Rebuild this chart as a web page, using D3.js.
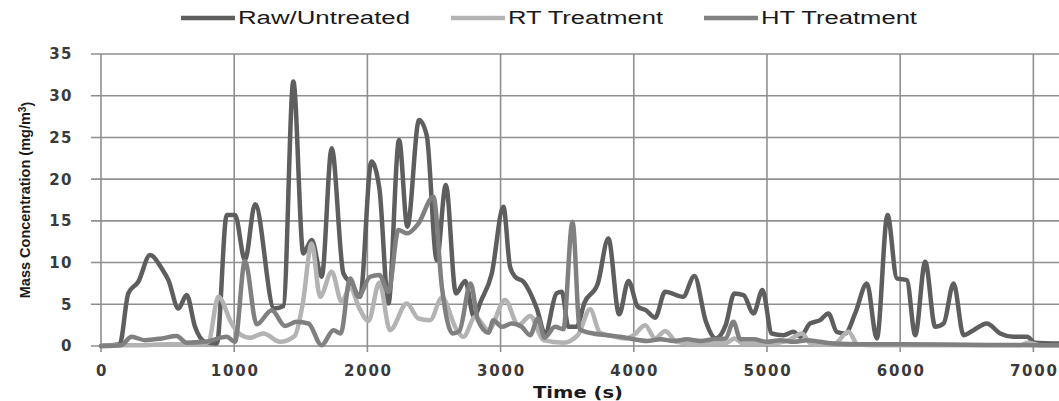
<!DOCTYPE html>
<html>
<head>
<meta charset="utf-8">
<script src="https://cdn.jsdelivr.net/npm/d3@7"></script>
<style>
  html, body { margin: 0; padding: 0; background: #fff; }
  svg { display: block; }
</style>
</head>
<body>
<svg id="chart"></svg>
<script>
// values (time in s, concentration in mg/m3)
const rawTime = [0,140,205,280,368,456,506,581,643,706,781,870,944,1006,1081,1157,1300,1370,1444,1519,1582,1657,1732,1820,1880,1945,2030,2090,2158,2238,2300,2388,2446,2521,2589,2665,2734,2800,2850,2934,3021,3071,3109,3172,3272,3334,3420,3460,3509,3571,3630,3730,3809,3890,3960,4030,4090,4160,4236,4370,4455,4540,4617,4690,4755,4824,4899,4966,5036,5124,5199,5249,5324,5399,5461,5524,5587,5662,5750,5825,5905,5975,6050,6113,6188,6263,6326,6401,6476,6551,6650,6751,6851,6953,7010,7200];
const rawValues = [0,0.2,6.3,7.7,10.9,9.3,7.9,4.5,6.1,2.3,0.5,0.3,15.7,15.7,10.3,17.0,4.5,4.8,31.7,11.1,12.7,8.3,23.7,8.7,7.5,5.9,22.1,18.9,5.1,24.7,14.3,27.1,25.2,10.3,19.3,6.3,7.8,3.5,5.3,8.7,16.7,9.5,8.3,7.7,4.5,1.5,6.3,6.5,2.3,2.3,5.2,7.5,12.9,3.8,7.8,4.7,4.3,3.4,6.5,5.9,8.4,3.0,0.9,2.5,6.3,6.1,3.9,6.7,1.5,1.3,1.7,1.1,2.7,3.1,3.9,1.7,1.5,3.9,7.5,0.9,15.7,8.1,7.9,1.3,10.1,2.3,2.7,7.5,1.3,1.9,2.7,1.5,1.1,1.1,0.4,0.3];

const rtTime = [0,150,300,500,700,806,881,981,1044,1120,1220,1344,1454,1514,1582,1645,1732,1807,1870,1940,2008,2090,2170,2296,2383,2471,2560,2671,2721,2810,2909,3034,3134,3222,3321,3472,3580,3672,3746,3834,3934,4000,4085,4160,4236,4320,4500,4700,4755,4820,5000,5150,5262,5330,5500,5612,5680,5800,6200,6600,6900,6960,7050,7200];
const rtValues = [0,0.1,0.1,0.2,0.2,0.5,5.9,2.7,1.4,1.0,1.5,0.5,1.2,5.0,12.3,5.9,8.9,5.3,7.0,4.5,3.0,7.6,1.9,5.1,3.3,3.1,5.8,1.9,1.1,3.5,1.9,5.5,2.5,3.6,0.7,0.4,1.3,4.4,1.6,1.2,0.9,1.3,2.5,0.9,1.8,0.5,0.2,0.4,0.9,0.3,0.3,0.6,1.5,0.3,0.2,1.7,0.2,0.1,0.1,0.1,0.1,0.4,0.1,0.1];

const htTime = [0,150,230,330,455,568,643,781,944,1006,1081,1169,1282,1382,1469,1557,1657,1745,1800,1870,1932,2020,2090,2158,2233,2300,2380,2496,2559,2640,2690,2775,2830,2909,2946,3009,3084,3159,3222,3280,3330,3409,3471,3540,3595,3696,3800,3900,4000,4100,4200,4300,4400,4500,4600,4690,4748,4800,4900,5000,5100,5200,5300,5400,5500,5700,6000,6500,7000,7200];
const htValues = [0,0.1,1.1,0.7,0.9,1.2,0.4,0.5,1.1,0.5,10.2,2.6,4.3,2.4,2.9,2.7,0.1,1.9,1.5,8.1,5.9,8.3,8.5,6.5,13.9,13.5,14.6,17.9,7.1,1.5,1.8,7.5,3.1,1.6,3.1,2.3,2.7,2.3,1.3,3.3,1.0,2.3,2.0,14.9,2.0,1.5,1.3,1.1,0.8,0.6,0.8,0.6,0.8,0.6,0.8,0.9,2.9,0.8,0.8,0.5,0.7,0.5,0.7,0.5,0.3,0.2,0.2,0.15,0.1,0.1];

const seriesNames = ["Raw/Untreated", "RT Treatment", "HT Treatment"];
const seriesColors = ["#5e5e5e", "#b3b3b3", "#808080"];
const xTicks = [0,1000,2000,3000,4000,5000,6000,7000];
const yTicks = [0,5,10,15,20,25,30,35];

const width = 1059, height = 401;
const svg = d3.select("#chart").attr("width", width).attr("height", height);

const x = d3.scaleLinear().domain([0, 7200]).range([101, 1060]);
const y = d3.scaleLinear().domain([0, 35]).range([346, 54]);

const gridColor = "#8f8f8f";

// horizontal gridlines (with tick stubs on the left)
svg.append("g")
    .selectAll("line")
    .data(yTicks)
    .enter()
    .append("line")
    .attr("x1", 91)
    .attr("x2", width)
    .attr("y1", d => y(d))
    .attr("y2", d => y(d))
    .attr("stroke", gridColor)
    .attr("stroke-width", 1.6);

// vertical gridlines (with tick stubs below)
svg.append("g")
    .selectAll("line")
    .data(xTicks)
    .enter()
    .append("line")
    .attr("x1", d => x(d))
    .attr("x2", d => x(d))
    .attr("y1", y(35))
    .attr("y2", 352)
    .attr("stroke", gridColor)
    .attr("stroke-width", 1.6);

// tick labels
svg.append("g")
    .selectAll("text")
    .data(yTicks)
    .enter()
    .append("text")
    .attr("x", 73)
    .attr("y", d => y(d))
    .attr("dy", "0.36em")
    .attr("text-anchor", "end")
    .style("font-family", "DejaVu Sans")
    .style("font-weight", "bold")
    .style("font-size", "15px")
    .style("letter-spacing", "1.5px")
    .attr("fill", "#3a3a3a")
    .text(d => d);

svg.append("g")
    .selectAll("text")
    .data(xTicks)
    .enter()
    .append("text")
    .attr("x", d => x(d) + 1)
    .attr("y", 371)
    .attr("dy", "0.36em")
    .attr("text-anchor", "middle")
    .style("font-family", "DejaVu Sans")
    .style("font-weight", "bold")
    .style("font-size", "15px")
    .style("letter-spacing", "1.8px")
    .attr("fill", "#3a3a3a")
    .text(d => d);

// axis titles
svg.append("text")
    .attr("x", 578)
    .attr("y", 392)
    .attr("dy", "0.36em")
    .attr("text-anchor", "middle")
    .style("font-family", "DejaVu Sans")
    .style("font-weight", "bold")
    .style("font-size", "16px")
    .attr("textLength", 90)
    .attr("lengthAdjust", "spacingAndGlyphs")
    .attr("fill", "#1a1a1a")
    .text("Time (s)");

const yTitle = svg.append("text")
    .attr("transform", "translate(25,200) rotate(-90)")
    .attr("text-anchor", "middle")
    .attr("dy", "0.36em")
    .style("font-family", "Liberation Sans")
    .style("font-weight", "bold")
    .style("font-size", "14.5px")
    .attr("fill", "#1a1a1a");
yTitle.append("tspan").text("Mass Concentration (mg/m");
yTitle.append("tspan").attr("dy", "-0.4em").style("font-size", "10px").text("3");
yTitle.append("tspan").attr("dy", "0.4em").text(")");

// series
const series = [
    { name: seriesNames[0], color: seriesColors[0], t: rawTime, v: rawValues },
    { name: seriesNames[1], color: seriesColors[1], t: rtTime, v: rtValues },
    { name: seriesNames[2], color: seriesColors[2], t: htTime, v: htValues }
];

svg.append("clipPath")
    .attr("id", "plot-clip")
    .append("rect")
    .attr("x", 95)
    .attr("y", 40)
    .attr("width", width - 95)
    .attr("height", 320);

const line = d3.line()
    .x(d => x(d[0]))
    .y(d => y(d[1]))
    .curve(d3.curveMonotoneX);

svg.append("g")
    .attr("clip-path", "url(#plot-clip)")
    .selectAll("path")
    .data(series)
    .enter()
    .append("path")
    .attr("d", s => line(s.t.map((t, i) => [t, s.v[i]])))
    .attr("fill", "none")
    .attr("stroke", s => s.color)
    .attr("stroke-width", 4.5)
    .attr("stroke-linejoin", "round")
    .attr("stroke-linecap", "round");

// legend
const legendX = [181, 451, 704];
const legendTextLen = [172, 155, 156];
const legend = svg.append("g")
    .selectAll("g")
    .data(series)
    .enter()
    .append("g")
    .attr("transform", (d, i) => `translate(${legendX[i]},18)`);

legend.append("line")
    .attr("x1", 0)
    .attr("x2", 54)
    .attr("stroke", d => d.color)
    .attr("stroke-width", 4.5);

legend.append("text")
    .attr("x", 57)
    .attr("dy", "0.36em")
    .style("font-family", "Liberation Sans")
    .style("font-size", "18px")
    .attr("textLength", (d, i) => legendTextLen[i])
    .attr("lengthAdjust", "spacingAndGlyphs")
    .attr("fill", "#1a1a1a")
    .text(d => d.name);
</script>
</body>
</html>
